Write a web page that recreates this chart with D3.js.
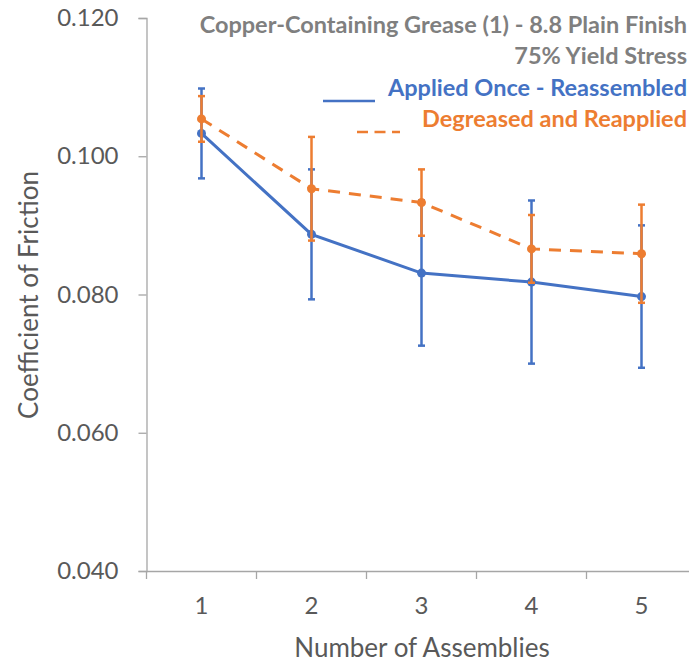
<!DOCTYPE html>
<html><head><meta charset="utf-8">
<script src="https://cdn.jsdelivr.net/npm/d3@7"></script>
<style>body{margin:0;background:#fff}svg{display:block;font-family:Lato,"Open Sans",sans-serif}</style>
</head><body><svg id="c" width="689" height="664"></svg>
<script>
const categories = ["1","2","3","4","5"];
const yTicks = [0.040,0.060,0.080,0.100,0.120];
const appliedOnce = [0.1033,0.0887,0.0831,0.0818,0.0797];
const appliedOnceErr = [0.0065,0.0094,0.0105,0.0118,0.0103];
const degreased = [0.1054,0.0953,0.0933,0.0866,0.0859];
const degreasedErr = [0.0033,0.0075,0.0048,0.0049,0.0071];
const titleLines = ["Copper-Containing Grease (1) - 8.8 Plain Finish","75% Yield Stress"];
const seriesNames = ["Applied Once - Reassembled","Degreased and Reapplied"];

const svg = d3.select("#c");
const x = d3.scaleBand().domain(categories).range([146.5,696.5]);
const y = d3.scaleLinear().domain([0.040,0.120]).range([571,18]);
const axisColor = "#a6a6a6", textColor = "#595959";

// y axis
const ya = svg.append("g").attr("transform","translate(146.5,0)")
  .call(d3.axisLeft(y).tickValues(yTicks).tickFormat(d3.format(".3f")).tickSize(8).tickPadding(20));
ya.select(".domain").attr("stroke",axisColor).attr("stroke-width",1.3);
ya.selectAll(".tick line").attr("stroke",axisColor).attr("stroke-width",1.3);
ya.selectAll(".tick text").attr("fill",textColor).style("font-size","24px").attr("font-family","Lato");

// x axis
const xa = svg.append("g").attr("transform","translate(0,571)")
  .call(d3.axisBottom(x).tickSize(0).tickPadding(26));
xa.select(".domain").attr("stroke",axisColor).attr("stroke-width",1.3);
xa.selectAll(".tick text").attr("fill",textColor).style("font-size","24px").attr("font-family","Lato");
xa.selectAll(".bt").data(categories).enter().append("line").attr("class","bt")
  .attr("x1",d=>x(d)).attr("x2",d=>x(d)).attr("y1",0).attr("y2",8)
  .attr("stroke",axisColor).attr("stroke-width",1.3);

// axis titles
svg.append("text").attr("x",422).attr("y",657).attr("text-anchor","middle")
  .attr("fill",textColor).style("font-size","26px").text("Number of Assemblies");
svg.append("text").attr("transform","translate(38,295) rotate(-90)").attr("text-anchor","middle")
  .attr("fill",textColor).style("font-size","26px").text("Coefficient of Friction");

function drawSeries(vals, errs, color, dash){
  const cx = d=>x(d)+x.bandwidth()/2;
  const g = svg.append("g");
  g.selectAll(".eb").data(categories).enter().append("line").attr("class","eb")
    .attr("x1",cx).attr("x2",cx)
    .attr("y1",(d,i)=>y(vals[i]+errs[i])).attr("y2",(d,i)=>y(vals[i]-errs[i]))
    .attr("stroke",color).attr("stroke-width",2.5);
  [1,-1].forEach((s,k)=>{
    g.selectAll(".cap"+k).data(categories).enter().append("line").attr("class","cap"+k)
      .attr("x1",d=>cx(d)-3.5).attr("x2",d=>cx(d)+3.5)
      .attr("y1",(d,i)=>y(vals[i]+s*errs[i]))
      .attr("y2",(d,i)=>y(vals[i]+s*errs[i]))
      .attr("stroke",color).attr("stroke-width",2.5);
  });
  g.append("path").datum(categories)
    .attr("d",d3.line().x(cx).y((d,i)=>y(vals[i])))
    .attr("fill","none").attr("stroke",color).attr("stroke-width",3)
    .attr("stroke-dasharray",dash);
  g.selectAll("circle").data(categories).enter().append("circle")
    .attr("cx",cx).attr("cy",(d,i)=>y(vals[i])).attr("r",4.5).attr("fill",color);
}
drawSeries(appliedOnce, appliedOnceErr, "#4472C4", null);
drawSeries(degreased, degreasedErr, "#ED7D31", "12,9");

// title & legend
const tg = svg.append("g").attr("text-anchor","end").style("font-weight","bold").style("font-size","23.5px");
tg.append("text").attr("x",687).attr("y",33).attr("fill","#7f7f7f").text(titleLines[0]);
tg.append("text").attr("x",687).attr("y",64).attr("fill","#7f7f7f").text(titleLines[1]);
tg.append("text").attr("x",687).attr("y",96).attr("fill","#4472C4").text(seriesNames[0]);
tg.append("text").attr("x",687).attr("y",127).attr("fill","#ED7D31").text(seriesNames[1]);
svg.append("line").attr("x1",323).attr("x2",375).attr("y1",101).attr("y2",101)
  .attr("stroke","#4472C4").attr("stroke-width",2.5);
svg.append("line").attr("x1",357).attr("x2",400).attr("y1",132).attr("y2",132)
  .attr("stroke","#ED7D31").attr("stroke-width",2.5).attr("stroke-dasharray","11,6.5");
</script></body></html>
